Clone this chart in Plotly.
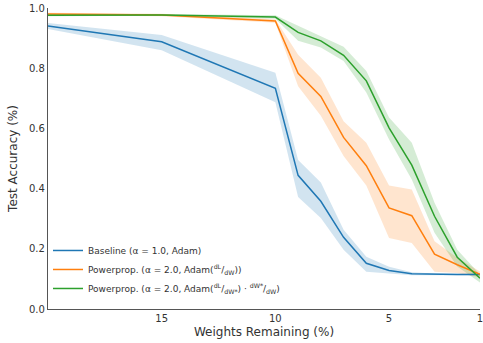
import plotly.graph_objects as go

# Data (x = weights remaining %, y = test accuracy)
weights = [20, 15, 10, 9, 8, 7, 6, 5, 4, 3, 2, 1]

baseline_mean = [0.940, 0.888, 0.733, 0.444, 0.358, 0.238, 0.152, 0.128, 0.117, 0.115, 0.115, 0.115]
baseline_upper = [0.950, 0.910, 0.785, 0.495, 0.420, 0.263, 0.174, 0.140, 0.122, 0.118, 0.118, 0.118]
baseline_lower = [0.930, 0.860, 0.687, 0.372, 0.302, 0.197, 0.124, 0.118, 0.112, 0.112, 0.112, 0.112]

pp_mean = [0.980, 0.977, 0.957, 0.783, 0.706, 0.570, 0.476, 0.336, 0.310, 0.182, 0.147, 0.115]
pp_upper = [0.984, 0.981, 0.963, 0.845, 0.768, 0.624, 0.552, 0.410, 0.397, 0.225, 0.170, 0.125]
pp_lower = [0.976, 0.973, 0.951, 0.740, 0.642, 0.508, 0.410, 0.236, 0.219, 0.124, 0.120, 0.105]

ppg_mean = [0.976, 0.977, 0.970, 0.919, 0.891, 0.843, 0.758, 0.602, 0.478, 0.308, 0.172, 0.102]
ppg_upper = [0.979, 0.980, 0.976, 0.941, 0.908, 0.871, 0.791, 0.636, 0.552, 0.353, 0.197, 0.115]
ppg_lower = [0.973, 0.974, 0.964, 0.891, 0.869, 0.824, 0.719, 0.563, 0.430, 0.253, 0.141, 0.088]

x_ticks = [15, 10, 5, 1]
y_ticks = [0.0, 0.2, 0.4, 0.6, 0.8, 1.0]

series = [
    ("Baseline (α = 1.0, Adam)", baseline_mean, baseline_upper, baseline_lower, "#1f77b4", "rgba(31,119,180,0.2)"),
    ("Powerprop. (α = 2.0, Adam(<sup>dL</sup>/<sub>dW</sub>))", pp_mean, pp_upper, pp_lower, "#ff7f0e", "rgba(255,127,14,0.2)"),
    ("Powerprop. (α = 2.0, Adam(<sup>dL</sup>/<sub>dW*</sub>) · <sup>dW*</sup>/<sub>dW</sub>)", ppg_mean, ppg_upper, ppg_lower, "#2ca02c", "rgba(44,160,44,0.2)"),
]

fig = go.Figure()
for name, mean, upper, lower, color, fillc in series:
    fig.add_trace(go.Scatter(x=weights, y=upper, mode="lines", line=dict(width=0, color=fillc),
                             showlegend=False, hoverinfo="skip"))
    fig.add_trace(go.Scatter(x=weights, y=lower, mode="lines", line=dict(width=0, color=fillc),
                             fill="tonexty", fillcolor=fillc, showlegend=False, hoverinfo="skip"))
for name, mean, upper, lower, color, fillc in series:
    fig.add_trace(go.Scatter(x=weights, y=mean, mode="lines", name=name,
                             line=dict(color=color, width=1.5)))

fig.update_layout(
    width=483, height=343,
    margin=dict(l=48, r=3, t=8, b=34, autoexpand=False),
    plot_bgcolor="white", paper_bgcolor="white",
    font=dict(family="DejaVu Sans", size=10, color="#333333"),
    showlegend=True,
    legend=dict(x=0.0, y=0.02, xanchor="left", yanchor="bottom", traceorder="normal",
                bgcolor="rgba(0,0,0,0)", font=dict(size=9, color="#333333"),
                tracegroupgap=0),
)
fig.update_xaxes(range=[20, 1], tickvals=x_ticks, ticktext=[str(t) for t in x_ticks],
                 showgrid=False, zeroline=False, showline=True, linecolor="#555555", linewidth=1.2,
                 ticks="", ticklabeloverflow="allow", automargin=False,
                 title=dict(text="Weights Remaining (%)", standoff=4))
fig.update_yaxes(range=[0, 1], tickvals=y_ticks, tickformat=".1f",
                 showgrid=False, zeroline=False, showline=True, linecolor="#555555", linewidth=1.2,
                 ticks="", automargin=False,
                 title=dict(text="Test Accuracy (%)", standoff=8))

fig.write_html("out.html", config={"displayModeBar": False},
               post_script="document.body.style.margin='0';document.body.style.overflow='hidden';")
